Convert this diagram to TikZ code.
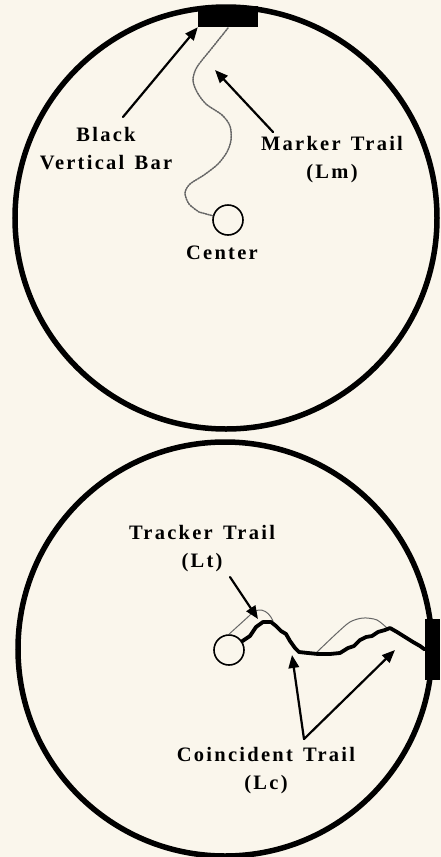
\documentclass[tikz,border=0pt]{standalone}
\usepackage{fontspec}
\setmainfont{Liberation Serif}
\newfontfamily\trailfont{Liberation Serif}[LetterSpace=11,WordSpace=1.4]
\usetikzlibrary{arrows.meta}
\definecolor{paper}{HTML}{FAF6EC}
\definecolor{trailgray}{gray}{0.4}

\begin{document}
\begin{tikzpicture}[x=1pt,y=-1pt,>={Triangle[length=13pt,width=10.5pt]},line cap=round,
  lbl/.style={font=\trailfont\bfseries\fontsize{20.5}{28}\selectfont,align=center,inner sep=0pt},
  dial/.style={line width=5.5pt},
  hub/.style={circle,draw,line width=1.6pt,minimum size=30pt,inner sep=0pt},
  bar/.style={fill,inner sep=0pt},
  pointer/.style={->,line width=2.2pt}]
\useasboundingbox (0,0) rectangle (441,857);
\fill[paper] (0,0) rectangle (441,857);
% upper dial
\draw[dial] (226,218) circle[radius=211pt];
\node[bar,minimum width=60pt,minimum height=21pt] (bar1) at (228,16.5) {};
\node[hub] (ctr1) at (228,220) {};
\draw[trailgray,line width=1.5pt,densely dotted] plot[smooth] coordinates {(228,28) (212,48) (197,67) (193,80) (197,92) (206,104) (222,115) (230,126) (231,140) (227,152) (218,164) (204,175) (190,184) (185,193) (189,204) (199,212)} -- (ctr1);
\node[lbl] (blacklbl) at (106,149) {Black\\Vertical Bar};
\node[lbl] (markerlbl) at (332,160) {Marker Trail\\(Lm)};
\node[lbl] (ctrlbl) at (222,253) {Center};
\coordinate (blacktail) at (123,117);
\coordinate (markertail) at (273,132);
\coordinate (markertip) at (215,70);
\draw[pointer] (blacktail) -- (bar1.south west);
\draw[pointer] (markertail) -- (markertip);
% lower dial
\draw[dial] (225,649) circle[radius=207pt];
\node[bar,minimum width=15pt,minimum height=61pt] (bar2) at (432.5,649.5) {};
\node[hub] (ctr2) at (229,650) {};
\draw[trailgray,line width=1pt] (ctr2.north) -- (249,616) .. controls (257,606) and (268,609) .. (273,621);
\draw[trailgray,line width=1pt] plot[smooth] coordinates {(317,652) (337,633) (350,622) (363,618) (377,620) (388,629)};
\draw[line width=3.8pt,line join=round] (ctr2) -- (250,636) -- (256,627) -- (263,622) -- (271,622) -- (276,626) -- (281,631) -- (286,634) -- (290,641) -- (295,648) -- (299,652) -- (308,653) -- (318,654) -- (330,654) -- (340,653) -- (348,648) -- (354,646) -- (360,640) -- (366,637) -- (372,636) -- (378,632) -- (385,630) -- (390,628) -- (397,632) -- (405,637) -- (413,642) -- (420,646) -- (bar2.west);
\node[lbl] (trackerlbl) at (202,549) {Tracker Trail\\(Lt)};
\node[lbl] (coinclbl) at (266,771) {Coincident Trail\\(Lc)};
\coordinate (trackertail) at (230,577);
\coordinate (trackertip) at (258,619);
\coordinate (coincfork) at (304,739);
\coordinate (coinctipa) at (292,655);
\coordinate (coinctipb) at (395,650);
\draw[pointer] (trackertail) -- (trackertip);
\draw[pointer] (coincfork) -- (coinctipa);
\draw[pointer] (coincfork) -- (coinctipb);
\end{tikzpicture}
\end{document}
